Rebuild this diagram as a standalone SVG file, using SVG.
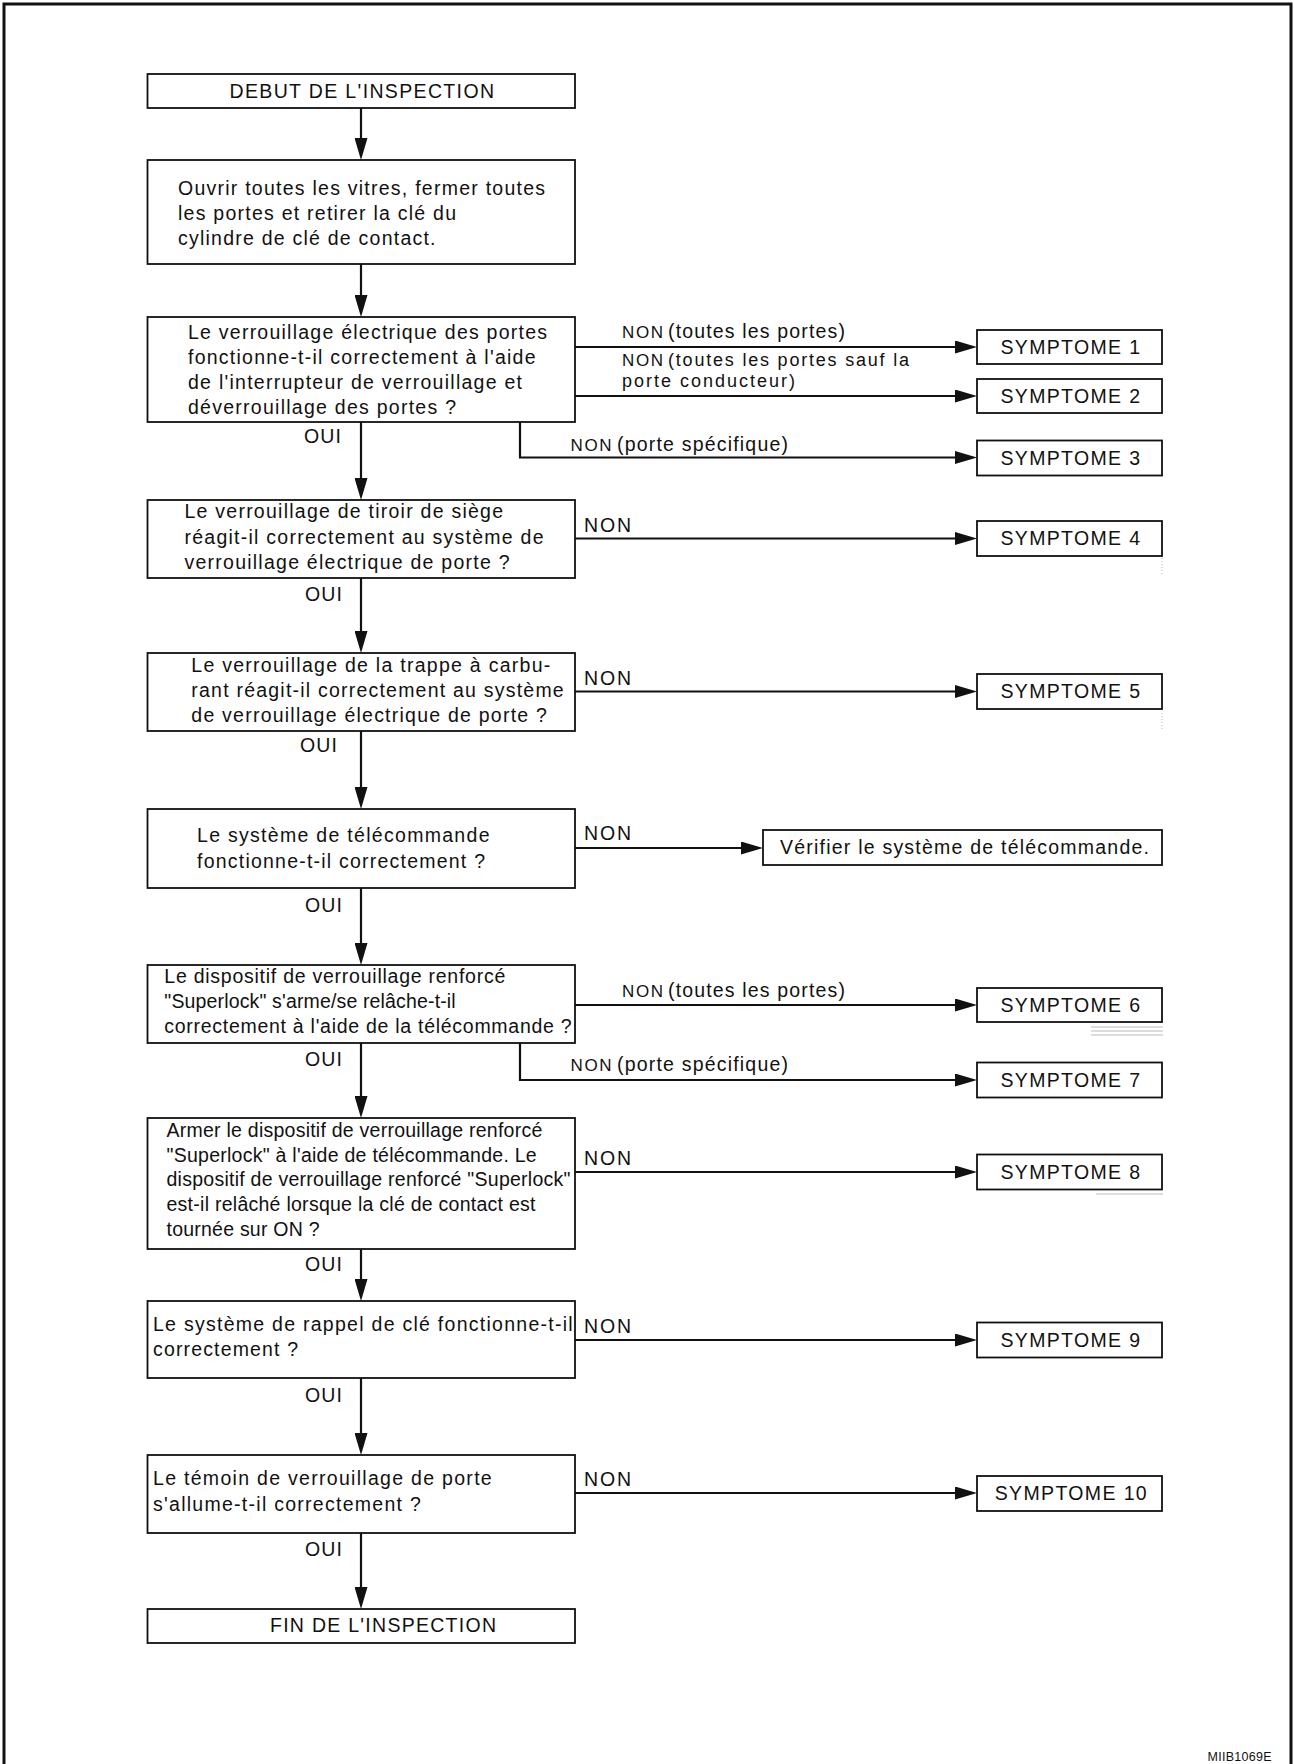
<svg xmlns="http://www.w3.org/2000/svg" width="1294" height="1764" viewBox="0 0 1294 1764">
<style>
text{font-family:"Liberation Sans",Arial,Helvetica,sans-serif;font-size:19.5px;fill:#111}
.box{fill:#fff;stroke:#111;stroke-width:1.8}
.con{fill:none;stroke:#111;stroke-width:2.2}
.small{font-size:17px}
.tight{font-size:18px}
.art{fill:none;stroke:#bbb;stroke-width:1}
</style>
<defs>
<marker id="ah" markerUnits="userSpaceOnUse" markerWidth="22" markerHeight="13" viewBox="0 0 22 13" refX="2" refY="6.5" orient="auto">
<path d="M0,0 L22,6.5 L0,13 z" fill="#111"/>
</marker>
</defs>
<rect width="1294" height="1764" fill="#fff"/>
<path d="M4,1764 V4 H1291 V1764" fill="none" stroke="#111" stroke-width="3"/>

<g id="connectors">
<line class="con" x1="361" y1="108" x2="361" y2="140" marker-end="url(#ah)"/>
<line class="con" x1="361" y1="264" x2="361" y2="297" marker-end="url(#ah)"/>
<line class="con" x1="361" y1="422" x2="361" y2="480" marker-end="url(#ah)"/>
<line class="con" x1="361" y1="578" x2="361" y2="633" marker-end="url(#ah)"/>
<line class="con" x1="361" y1="731" x2="361" y2="789" marker-end="url(#ah)"/>
<line class="con" x1="361" y1="888" x2="361" y2="945" marker-end="url(#ah)"/>
<line class="con" x1="361" y1="1043" x2="361" y2="1098" marker-end="url(#ah)"/>
<line class="con" x1="361" y1="1249" x2="361" y2="1281" marker-end="url(#ah)"/>
<line class="con" x1="361" y1="1378" x2="361" y2="1435" marker-end="url(#ah)"/>
<line class="con" x1="361" y1="1533" x2="361" y2="1589" marker-end="url(#ah)"/>

<line class="con" x1="575" y1="347" x2="957" y2="347" marker-end="url(#ah)"/>
<line class="con" x1="575" y1="396" x2="957" y2="396" marker-end="url(#ah)"/>
<polyline class="con" points="520,422 520,457.5 957,457.5" marker-end="url(#ah)"/>
<line class="con" x1="575" y1="538.5" x2="957" y2="538.5" marker-end="url(#ah)"/>
<line class="con" x1="575" y1="691.5" x2="957" y2="691.5" marker-end="url(#ah)"/>
<line class="con" x1="575" y1="848" x2="743" y2="848" marker-end="url(#ah)"/>
<line class="con" x1="575" y1="1005" x2="957" y2="1005" marker-end="url(#ah)"/>
<polyline class="con" points="520,1043 520,1080 957,1080" marker-end="url(#ah)"/>
<line class="con" x1="575" y1="1172" x2="957" y2="1172" marker-end="url(#ah)"/>
<line class="con" x1="575" y1="1340" x2="957" y2="1340" marker-end="url(#ah)"/>
<line class="con" x1="575" y1="1493" x2="957" y2="1493" marker-end="url(#ah)"/>

<text x="304" y="443" textLength="37" lengthAdjust="spacing">OUI</text>
<text x="305" y="601" textLength="37" lengthAdjust="spacing">OUI</text>
<text x="300" y="752" textLength="37" lengthAdjust="spacing">OUI</text>
<text x="305" y="912" textLength="37" lengthAdjust="spacing">OUI</text>
<text x="305" y="1066" textLength="37" lengthAdjust="spacing">OUI</text>
<text x="305" y="1271" textLength="37" lengthAdjust="spacing">OUI</text>
<text x="305" y="1402" textLength="37" lengthAdjust="spacing">OUI</text>
<text x="305" y="1556" textLength="37" lengthAdjust="spacing">OUI</text>

<text class="small" x="622" y="338" textLength="41" lengthAdjust="spacing">NON</text>
<text x="668" y="338" textLength="177" lengthAdjust="spacing">(toutes les portes)</text>
<text class="small" x="622" y="366" textLength="41" lengthAdjust="spacing">NON</text>
<text class="tight" x="668" y="366" textLength="241" lengthAdjust="spacing">(toutes les portes sauf la</text>
<text class="tight" x="622" y="387" textLength="173" lengthAdjust="spacing">porte conducteur)</text>
<text class="small" x="570.5" y="451" textLength="41" lengthAdjust="spacing">NON</text>
<text x="617" y="451" textLength="171" lengthAdjust="spacing">(porte spécifique)</text>
<text x="584" y="532" textLength="47" lengthAdjust="spacing">NON</text>
<text x="584" y="685" textLength="47" lengthAdjust="spacing">NON</text>
<text x="584" y="840" textLength="47" lengthAdjust="spacing">NON</text>
<text class="small" x="622" y="997" textLength="41" lengthAdjust="spacing">NON</text>
<text x="668" y="997" textLength="177" lengthAdjust="spacing">(toutes les portes)</text>
<text class="small" x="570.5" y="1071" textLength="41" lengthAdjust="spacing">NON</text>
<text x="617" y="1071" textLength="171" lengthAdjust="spacing">(porte spécifique)</text>
<text x="584" y="1165" textLength="47" lengthAdjust="spacing">NON</text>
<text x="584" y="1333" textLength="47" lengthAdjust="spacing">NON</text>
<text x="584" y="1486" textLength="47" lengthAdjust="spacing">NON</text>
</g>

<g id="start">
<rect class="box" x="147.5" y="74" width="427.5" height="34"/>
<text x="229.5" y="98" textLength="264.5" lengthAdjust="spacing">DEBUT DE L'INSPECTION</text>
</g>
<g id="step-open">
<rect class="box" x="147.5" y="160" width="427.5" height="104"/>
<text x="178" y="195" textLength="367" lengthAdjust="spacing">Ouvrir toutes les vitres, fermer toutes</text>
<text x="178" y="220" textLength="278" lengthAdjust="spacing">les portes et retirer la clé du</text>
<text x="178" y="245" textLength="257.5" lengthAdjust="spacing">cylindre de clé de contact.</text>
</g>
<g id="q1">
<rect class="box" x="147.5" y="317" width="427.5" height="105"/>
<text x="188" y="339" textLength="359" lengthAdjust="spacing">Le verrouillage électrique des portes</text>
<text x="188" y="364" textLength="347.5" lengthAdjust="spacing">fonctionne-t-il correctement à l'aide</text>
<text x="188" y="389" textLength="334" lengthAdjust="spacing">de l'interrupteur de verrouillage et</text>
<text x="188" y="414" textLength="268" lengthAdjust="spacing">déverrouillage des portes ?</text>
</g>
<g id="q2">
<rect class="box" x="147.5" y="500" width="427.5" height="78"/>
<text x="184.5" y="518" textLength="318.5" lengthAdjust="spacing">Le verrouillage de tiroir de siège</text>
<text x="184.5" y="544" textLength="359" lengthAdjust="spacing">réagit-il correctement au système de</text>
<text x="184.5" y="569" textLength="325" lengthAdjust="spacing">verrouillage électrique de porte ?</text>
</g>
<g id="q3">
<rect class="box" x="147.5" y="653" width="427.5" height="78"/>
<text x="191.3" y="672" textLength="359" lengthAdjust="spacing">Le verrouillage de la trappe à carbu-</text>
<text x="191.3" y="697" textLength="372.4" lengthAdjust="spacing">rant réagit-il correctement au système</text>
<text x="191.3" y="722" textLength="355.6" lengthAdjust="spacing">de verrouillage électrique de porte ?</text>
</g>
<g id="q4">
<rect class="box" x="147.5" y="809" width="427.5" height="79"/>
<text x="197" y="842" textLength="292.5" lengthAdjust="spacing">Le système de télécommande</text>
<text x="197" y="868" textLength="288" lengthAdjust="spacing">fonctionne-t-il correctement ?</text>
</g>
<g id="q5">
<rect class="box" x="147.5" y="965" width="427.5" height="78"/>
<text x="164.3" y="983" textLength="341" lengthAdjust="spacing">Le dispositif de verrouillage renforcé</text>
<text x="164.3" y="1008" textLength="291.4" lengthAdjust="spacing">"Superlock" s'arme/se relâche-t-il</text>
<text x="164.3" y="1033" textLength="407.3" lengthAdjust="spacing">correctement à l'aide de la télécommande ?</text>
</g>
<g id="q6">
<rect class="box" x="147.5" y="1118" width="427.5" height="131"/>
<text x="166.5" y="1137" textLength="375.8" lengthAdjust="spacing">Armer le dispositif de verrouillage renforcé</text>
<text x="166.5" y="1162" textLength="370.2" lengthAdjust="spacing">"Superlock" à l'aide de télécommande. Le</text>
<text x="166.5" y="1186" textLength="404" lengthAdjust="spacing">dispositif de verrouillage renforcé "Superlock"</text>
<text x="166.5" y="1211" textLength="369" lengthAdjust="spacing">est-il relâché lorsque la clé de contact est</text>
<text x="166.5" y="1236" textLength="153" lengthAdjust="spacing">tournée sur ON ?</text>
</g>
<g id="q7">
<rect class="box" x="147.5" y="1301" width="427.5" height="77"/>
<text x="153" y="1331" textLength="419.7" lengthAdjust="spacing">Le système de rappel de clé fonctionne-t-il</text>
<text x="153" y="1356" textLength="145" lengthAdjust="spacing">correctement ?</text>
</g>
<g id="q8">
<rect class="box" x="147.5" y="1455" width="427.5" height="78"/>
<text x="153" y="1485" textLength="338.7" lengthAdjust="spacing">Le témoin de verrouillage de porte</text>
<text x="153" y="1511" textLength="267.8" lengthAdjust="spacing">s'allume-t-il correctement ?</text>
</g>
<g id="end">
<rect class="box" x="147.5" y="1609" width="427.5" height="34"/>
<text x="270" y="1632" textLength="226" lengthAdjust="spacing">FIN DE L'INSPECTION</text>
</g>

<g id="s1"><rect class="box" x="977" y="330" width="185" height="34"/><text x="1000.5" y="353.5" textLength="139.5" lengthAdjust="spacing">SYMPTOME 1</text></g>
<g id="s2"><rect class="box" x="977" y="379" width="185" height="34"/><text x="1000.5" y="402.5" textLength="139.5" lengthAdjust="spacing">SYMPTOME 2</text></g>
<g id="s3"><rect class="box" x="977" y="440.5" width="185" height="35"/><text x="1000.5" y="464.5" textLength="139.5" lengthAdjust="spacing">SYMPTOME 3</text></g>
<g id="s4"><rect class="box" x="977" y="521" width="185" height="35"/><text x="1000.5" y="545" textLength="139.5" lengthAdjust="spacing">SYMPTOME 4</text></g>
<g id="s5"><rect class="box" x="977" y="674" width="185" height="35"/><text x="1000.5" y="698" textLength="139.5" lengthAdjust="spacing">SYMPTOME 5</text></g>
<g id="remote-check"><rect class="box" x="763" y="830" width="399" height="35"/><text x="780" y="854" textLength="369" lengthAdjust="spacing">Vérifier le système de télécommande.</text></g>
<g id="s6"><rect class="box" x="977" y="988" width="185" height="34"/><text x="1000.5" y="1011.5" textLength="139.5" lengthAdjust="spacing">SYMPTOME 6</text></g>
<g id="s7"><rect class="box" x="977" y="1062.5" width="185" height="35"/><text x="1000.5" y="1086.5" textLength="139.5" lengthAdjust="spacing">SYMPTOME 7</text></g>
<g id="s8"><rect class="box" x="977" y="1154.5" width="185" height="35"/><text x="1000.5" y="1178.5" textLength="139.5" lengthAdjust="spacing">SYMPTOME 8</text></g>
<g id="s9"><rect class="box" x="977" y="1322.5" width="185" height="35"/><text x="1000.5" y="1346.5" textLength="139.5" lengthAdjust="spacing">SYMPTOME 9</text></g>
<g id="s10"><rect class="box" x="977" y="1476" width="185" height="35"/><text x="994.7" y="1500" textLength="152" lengthAdjust="spacing">SYMPTOME 10</text></g>

<g id="artifacts">
<line class="art" x1="1162" y1="558" x2="1162" y2="576" stroke-dasharray="1,2"/>
<line class="art" x1="1162" y1="713" x2="1162" y2="730" stroke-dasharray="1,2"/>
<line class="art" x1="1091" y1="1027" x2="1163" y2="1027"/>
<line class="art" x1="1091" y1="1031" x2="1163" y2="1031"/>
<line class="art" x1="1091" y1="1035" x2="1163" y2="1035"/>
<line class="art" x1="1096" y1="1194" x2="1163" y2="1194"/>
</g>

<text x="1207.5" y="1761" style="font-size:12.5px" textLength="64" lengthAdjust="spacing">MIIB1069E</text>
</svg>
